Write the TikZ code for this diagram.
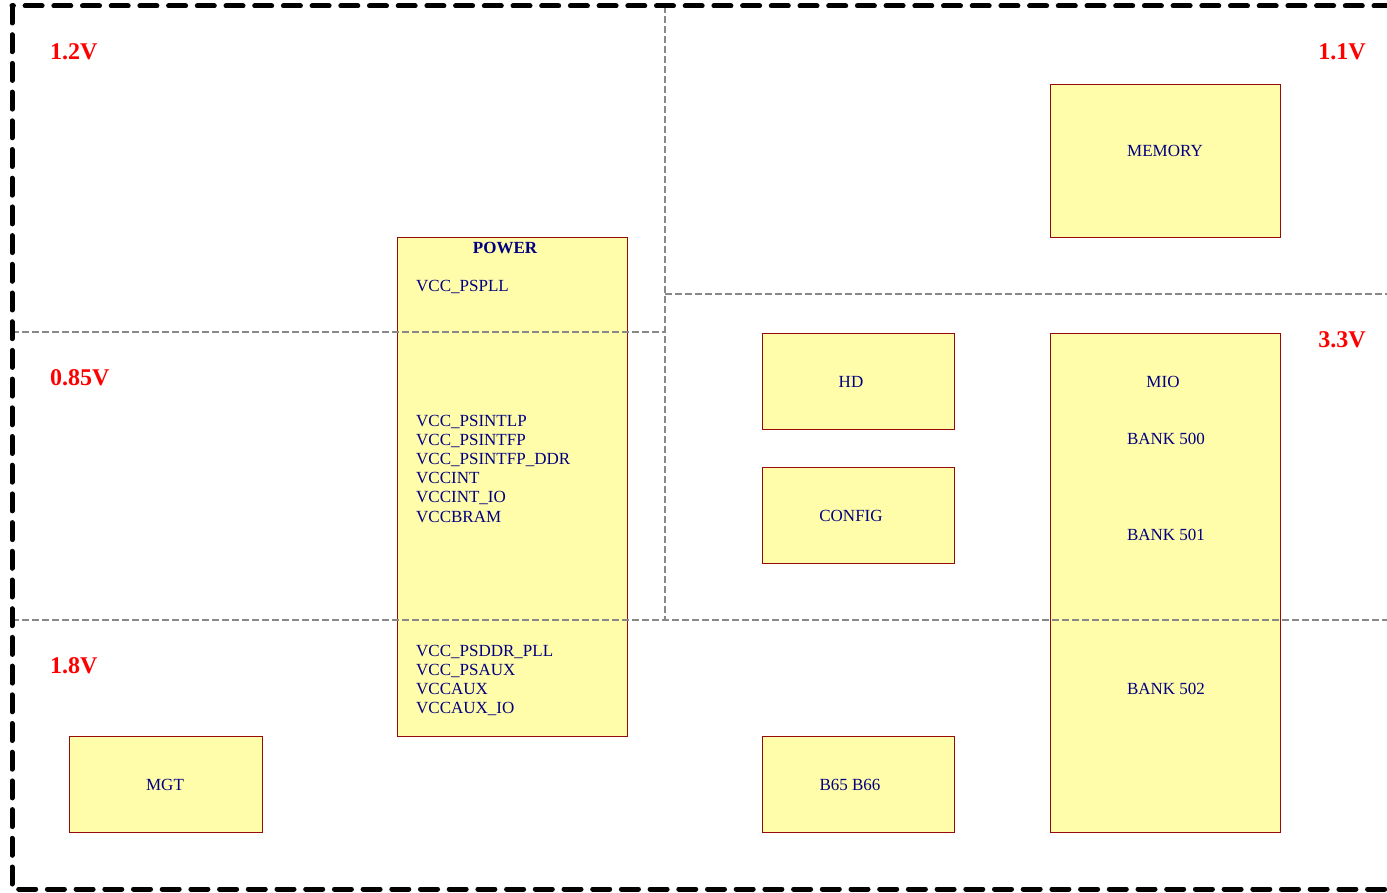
\documentclass[tikz,border=0pt]{standalone}
\usepackage{fontspec}
\setmainfont{Liberation Serif}
\definecolor{boxfill}{RGB}{255,252,170}
\definecolor{boxline}{RGB}{150,10,10}
\definecolor{railtext}{RGB}{0,0,128}
\definecolor{zoneline}{RGB}{136,136,136}
\begin{document}
\begin{tikzpicture}[x=1pt,y=-1pt,
  block/.style={draw=boxline,fill=boxfill,line width=1pt,inner sep=0pt,anchor=north west},
  rail/.style={text=railtext,font=\fontsize{17}{19}\selectfont,inner sep=0pt},
  volt/.style={text=red,font=\fontsize{24}{26}\selectfont\bfseries,inner sep=0pt},
  zone/.style={draw=zoneline,line width=1.6pt,dash pattern=on 7pt off 3pt}]
  \useasboundingbox (0,0) rectangle (1387,893);
  % blocks
  \node[block,minimum width=230pt,minimum height=499pt] (power) at (397,237) {};
  \node[block,minimum width=230pt,minimum height=153pt] (memory) at (1050,84) {};
  \node[block,minimum width=192pt,minimum height=96pt] (hd) at (762,333) {};
  \node[block,minimum width=192pt,minimum height=96pt] (config) at (762,467) {};
  \node[block,minimum width=230pt,minimum height=499pt] (mio) at (1050,333) {};
  \node[block,minimum width=193pt,minimum height=96pt] (mgt) at (69,736) {};
  \node[block,minimum width=192pt,minimum height=96pt] (bank) at (762,736) {};
  % voltage zones
  \coordinate (tl) at (12,6);
  \coordinate (br) at (1397,889);
  \draw[zone] (665,6) -- (665,620);
  \draw[zone] (12,332) -- (665,332);
  \draw[zone] (665,294) -- (1387,294);
  \draw[zone] (12,620) -- (1387,620);
  \draw[line width=5pt,line cap=round,dash pattern=on 17pt off 11.7pt] (tl) rectangle (br);
  % texts
  \node[rail,font=\fontsize{17}{19}\selectfont\bfseries] (powertitle) at (505,248) {POWER};
  \node[rail,anchor=base west] (pspll) at (416,292) {VCC\_PSPLL};
  \foreach \t [count=\i] in {VCC\_PSINTLP,VCC\_PSINTFP,VCC\_PSINTFP\_DDR,VCCINT,VCCINT\_IO,VCCBRAM}
    \node[rail,anchor=base west] (int\i) at (416,{426+19.2*(\i-1)}) {\t};
  \foreach \t [count=\i] in {VCC\_PSDDR\_PLL,VCC\_PSAUX,VCCAUX,VCCAUX\_IO}
    \node[rail,anchor=base west] (aux\i) at (416,{656+19.2*(\i-1)}) {\t};
  \node[rail] (memorytext) at (1165,151) {MEMORY};
  \node[rail] (hdtext) at (851,382) {HD};
  \node[rail] (configtext) at (851,516) {CONFIG};
  \node[rail] (miotext) at (1163,382) {MIO};
  \node[rail] (b500) at (1166,439) {BANK 500};
  \node[rail] (b501) at (1166,535) {BANK 501};
  \node[rail] (b502) at (1166,689) {BANK 502};
  \node[rail] (mgttext) at (165,785) {MGT};
  \node[rail] (banktext) at (850,785) {B65 B66};
  \node[volt,anchor=west] (v12) at (50,52) {1.2V};
  \node[volt,anchor=west] (v085) at (50,378) {0.85V};
  \node[volt,anchor=west] (v18) at (50,666) {1.8V};
  \node[volt,anchor=east] (v11) at (1366,52) {1.1V};
  \node[volt,anchor=east] (v33) at (1366,340) {3.3V};
\end{tikzpicture}
\end{document}
